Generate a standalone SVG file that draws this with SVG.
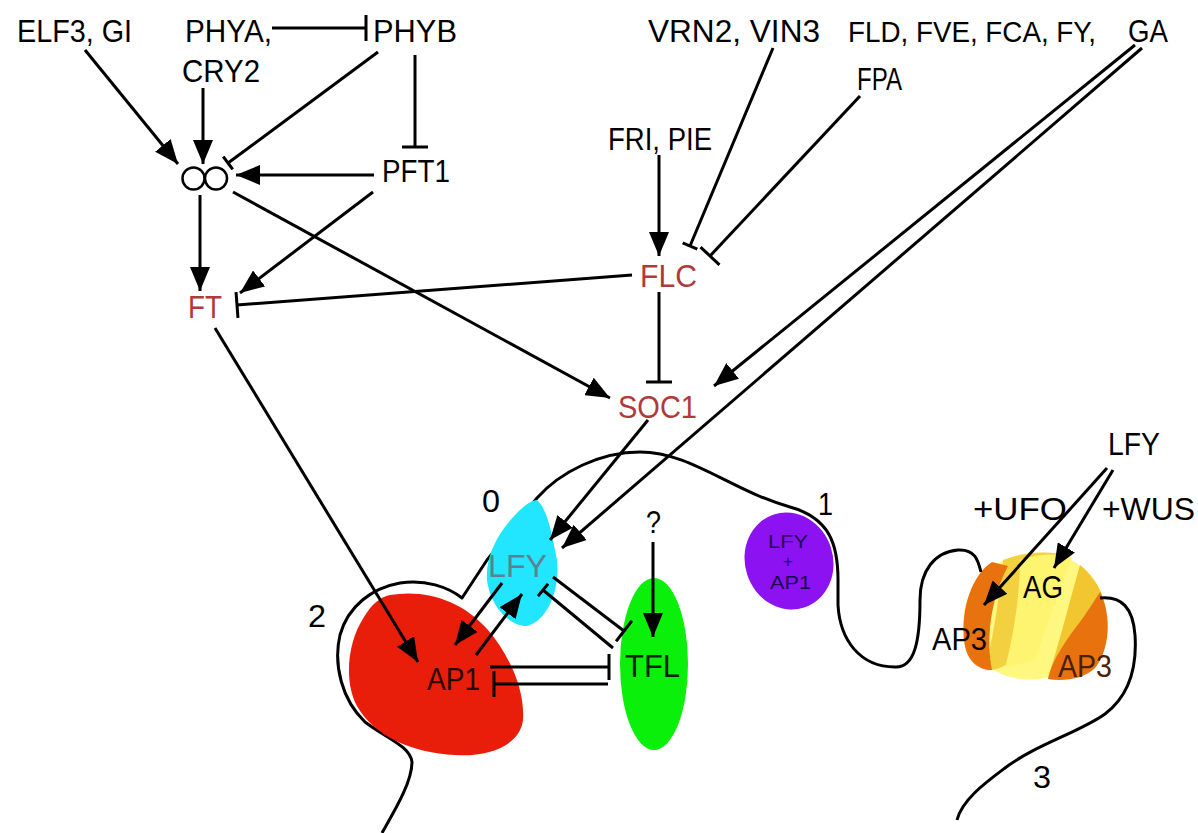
<svg xmlns="http://www.w3.org/2000/svg" width="1198" height="833" viewBox="0 0 1198 833">
  <defs>
    <style>
      .lbl { font-family: "Liberation Sans", Arial, sans-serif; font-size: 32px; fill: #000; }
      .red { fill: #b03a3a; }
      .small { font-size: 19px; fill: #1a0850; }
      .wire { fill: none; stroke: #000; stroke-width: 3; }
      .act { marker-end: url(#arrow); }
      .inh { marker-end: url(#tee); }
      .inh-s { marker-end: url(#tee-s); }
      .outline { fill: none; stroke: #000; stroke-width: 3; stroke-linejoin: round; }
    </style>
    <marker id="arrow" viewBox="0 0 24 20" refX="24" refY="10" markerWidth="24" markerHeight="20" markerUnits="userSpaceOnUse" orient="auto">
      <path d="M0,0 L24,10 L0,20 z" fill="#000"/>
    </marker>
    <marker id="tee" viewBox="0 0 4 26" refX="2" refY="13" markerWidth="4" markerHeight="26" markerUnits="userSpaceOnUse" orient="auto">
      <rect x="0.5" y="0" width="3" height="26" fill="#000"/>
    </marker>
    <marker id="tee-s" viewBox="0 0 4 16" refX="2" refY="8" markerWidth="4" markerHeight="16" markerUnits="userSpaceOnUse" orient="auto">
      <rect x="0.5" y="0" width="3" height="16" fill="#000"/>
    </marker>
  </defs>

  <rect width="1198" height="833" fill="#fff"/>

  <!-- purple floral meristem (stage 1) -->
  <g id="node-lfy-ap1">
    <ellipse cx="789" cy="561" rx="44" ry="49" transform="rotate(-18 789 561)" fill="#8c12f2"/>
    <text class="lbl small" x="768" y="548" textLength="40" lengthAdjust="spacingAndGlyphs">LFY</text>
    <text class="lbl small" x="783" y="567" style="font-size:17px">+</text>
    <text class="lbl small" x="770" y="589" textLength="41" lengthAdjust="spacingAndGlyphs">AP1</text>
  </g>

  <!-- organ identity domain (stage 3) -->
  <g id="node-ag">
    <ellipse cx="1034" cy="616" rx="71" ry="63" transform="rotate(-15 1034 616)" fill="#fff880"/>
    <path d="M1003,560 C1025,552 1050,550 1068,556 C1050,580 1040,610 1030,640 C1018,660 1000,672 985,670 C995,630 1000,590 1003,560 Z" fill="#f2d040"/>
    <path d="M1020,560 C1040,553 1060,553 1072,558 C1058,590 1048,625 1035,660 L1005,668 C1015,630 1020,590 1020,560 Z" fill="#fff470"/>
    <path d="M1080,565 C1098,580 1108,600 1106,625 C1104,648 1095,665 1078,678 L1048,678 C1060,640 1070,600 1080,565 Z" fill="#f2c630"/>
    <path d="M1100,592 C1112,615 1110,650 1095,668 C1085,678 1065,682 1048,679 C1052,660 1066,640 1080,622 C1090,608 1096,598 1100,592 Z" fill="#e8720e"/>
    <path d="M992,562 C972,575 961,608 964,640 C966,660 977,670 992,670 C986,640 990,600 1008,566 Z" fill="#e8720e"/>
    <text class="lbl" x="1023" y="598" textLength="40" lengthAdjust="spacingAndGlyphs">AG</text>
    <text class="lbl" x="932" y="650" textLength="55" lengthAdjust="spacingAndGlyphs">AP3</text>
    <text class="lbl" x="1058" y="677" textLength="54" lengthAdjust="spacingAndGlyphs" style="fill:#4a2000">AP3</text>
  </g>

  <!-- meristem outlines -->
  <g id="meristem">
    <path class="outline" d="M382,833 C395,810 412,782 412,762 C410,746 386,738 365,722 C342,700 333,665 340,635 C348,606 372,588 400,583 C425,579 448,587 462,598 L487,560 L537,498 C560,472 600,452 640,452 C690,452 730,490 790,507 C830,518 838,545 838,580 L838,605 C840,640 860,667 895,667 C915,668 920,640 920,600 C920,570 935,552 958,550 C975,549 978,560 981,572"/>
    <path class="outline" d="M1100,598 C1122,596 1133,608 1135,635 C1137,665 1130,695 1105,714 C1080,732 1035,745 1005,768 C985,783 962,800 957,820"/>
  </g>

  <!-- AP1 domain (stage 2) -->
  <g id="node-ap1">
    <path d="M390,595 C425,589 462,600 488,630 C510,656 525,690 523,720 C520,745 490,757 455,755 C412,753 374,736 357,706 C344,682 347,643 364,617 C372,604 380,597 390,595 Z" fill="#e81e0a"/>
    <text class="lbl" x="427" y="690" textLength="53" lengthAdjust="spacingAndGlyphs" style="fill:#2a0000">AP1</text>
  </g>

  <!-- LFY domain (stage 0) -->
  <g id="node-lfy">
    <path d="M537,500 C548,510 552,535 557,560 C560,590 548,620 527,626 C508,626 490,605 487,580 C485,555 500,530 517,513 C525,505 532,500 537,500 Z" fill="#22e6ff"/>
    <text class="lbl" x="488" y="577" textLength="59" lengthAdjust="spacingAndGlyphs" style="fill:#5f8090">LFY</text>
  </g>

  <!-- TFL domain -->
  <g id="node-tfl">
    <ellipse cx="654" cy="664" rx="34" ry="86" fill="#0af00a"/>
    <text class="lbl" x="625" y="677" textLength="55" lengthAdjust="spacingAndGlyphs" style="fill:#0a200a">TFL</text>
  </g>

  <!-- regulator labels -->
  <g id="node-elf3"><text class="lbl" x="17" y="42" textLength="115" lengthAdjust="spacingAndGlyphs">ELF3, GI</text></g>
  <g id="node-phya"><text class="lbl" x="185" y="42" textLength="87" lengthAdjust="spacingAndGlyphs">PHYA,</text></g>
  <g id="node-cry2"><text class="lbl" x="182" y="82" textLength="78" lengthAdjust="spacingAndGlyphs">CRY2</text></g>
  <g id="node-phyb"><text class="lbl" x="373" y="42" textLength="84" lengthAdjust="spacingAndGlyphs">PHYB</text></g>
  <g id="node-pft1"><text class="lbl" x="382" y="182" textLength="68" lengthAdjust="spacingAndGlyphs">PFT1</text></g>
  <g id="node-co">
    <circle cx="193.5" cy="178.5" r="11" fill="none" stroke="#000" stroke-width="2.5"/>
    <circle cx="216" cy="178.5" r="11" fill="none" stroke="#000" stroke-width="2.5"/>
  </g>
  <g id="node-ft"><text class="lbl red" x="188" y="318" textLength="34" lengthAdjust="spacingAndGlyphs">FT</text></g>
  <g id="node-vrn2"><text class="lbl" x="648" y="42" textLength="172" lengthAdjust="spacingAndGlyphs">VRN2, VIN3</text></g>
  <g id="node-fld"><text class="lbl" x="848" y="42" textLength="248" lengthAdjust="spacingAndGlyphs" style="font-size:29px">FLD, FVE, FCA, FY,</text></g>
  <g id="node-ga"><text class="lbl" x="1128" y="42" textLength="40" lengthAdjust="spacingAndGlyphs">GA</text></g>
  <g id="node-fpa"><text class="lbl" x="857" y="90" textLength="45" lengthAdjust="spacingAndGlyphs">FPA</text></g>
  <g id="node-fri"><text class="lbl" x="608" y="150" textLength="104" lengthAdjust="spacingAndGlyphs">FRI, PIE</text></g>
  <g id="node-flc"><text class="lbl red" x="640" y="287" textLength="57" lengthAdjust="spacingAndGlyphs">FLC</text></g>
  <g id="node-soc1"><text class="lbl red" x="618" y="418" textLength="79" lengthAdjust="spacingAndGlyphs">SOC1</text></g>
  <g id="node-unknown"><text class="lbl" x="646" y="533" textLength="15" lengthAdjust="spacingAndGlyphs">?</text></g>
  <g id="node-lfy2"><text class="lbl" x="1108" y="455" textLength="52" lengthAdjust="spacingAndGlyphs">LFY</text></g>
  <g id="node-ufo"><text class="lbl" x="973" y="520" textLength="94" lengthAdjust="spacingAndGlyphs">+UFO</text></g>
  <g id="node-wus"><text class="lbl" x="1102" y="520" textLength="93" lengthAdjust="spacingAndGlyphs">+WUS</text></g>

  <!-- stage numbers -->
  <g id="stages">
    <text class="lbl" x="482" y="512" textLength="18" lengthAdjust="spacingAndGlyphs">0</text>
    <text class="lbl" x="818" y="515" textLength="15" lengthAdjust="spacingAndGlyphs">1</text>
    <text class="lbl" x="308" y="627" textLength="18" lengthAdjust="spacingAndGlyphs">2</text>
    <text class="lbl" x="1033" y="788" textLength="18" lengthAdjust="spacingAndGlyphs">3</text>
  </g>

  <!-- regulatory connectors -->
  <g id="connectors" class="wire">
    <path class="act" d="M85,50 L178,164"/>
    <path class="act" d="M203,88 V164"/>
    <path class="inh-s" d="M378,52 L228,163"/>
    <path class="inh" d="M272,28 H366"/>
    <path class="inh" d="M415,55 V147"/>
    <path class="act" d="M374,175 H236"/>
    <path class="act" d="M373,192 L240,293"/>
    <path class="act" d="M200,195 V291"/>
    <path class="act" d="M233,192 L610,398"/>
    <path class="inh" d="M632,275 L237,305"/>
    <path class="act" d="M659,155 V256"/>
    <path class="inh-s" d="M773,48 L690,246"/>
    <path class="inh" d="M860,96 L710,256"/>
    <path class="inh" d="M659,292 V382"/>
    <path class="act" d="M1135,45 L714,386"/>
    <path class="act" d="M1142,48 L562,548"/>
    <path class="act" d="M648,420 L550,540"/>
    <path class="act" d="M215,328 L418,662"/>
    <path class="act" d="M502,583 L455,645"/>
    <path class="act" d="M476,655 L522,594"/>
    <path class="inh" d="M553,577 L624,631"/>
    <path class="inh-s" d="M613,648 L543,590"/>
    <path class="inh" d="M490,667 H609"/>
    <path class="inh" d="M608,684 H494"/>
    <path class="act" d="M653,542 V637"/>
    <path class="act" d="M1107,468 L984,605"/>
    <path class="act" d="M1113,470 L1054,568"/>
  </g>
</svg>
